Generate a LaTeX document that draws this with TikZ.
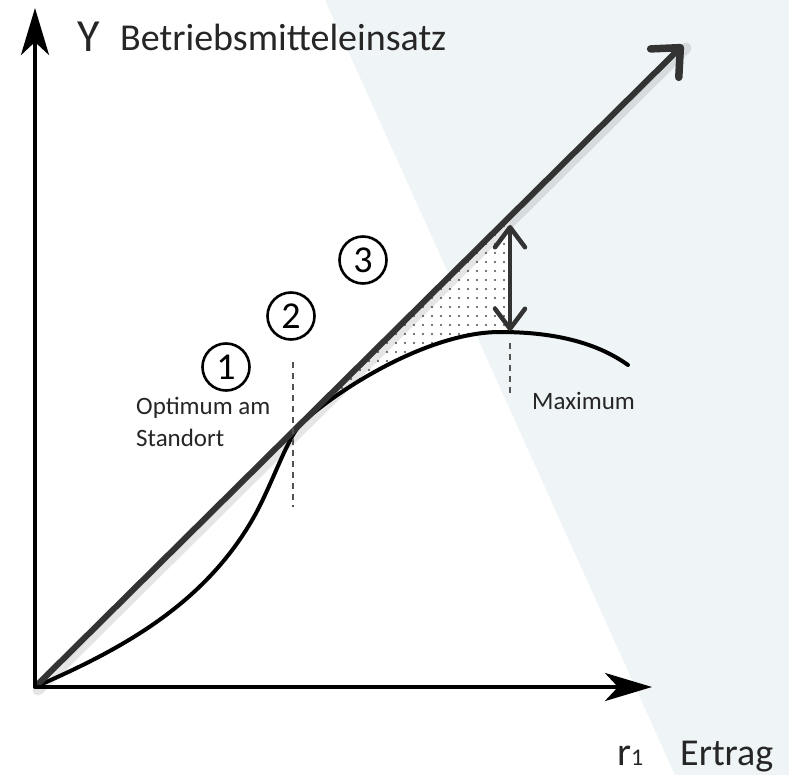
\documentclass[tikz,border=0pt]{standalone}
\usepackage{fontspec}
\setmainfont{Carlito}
\usetikzlibrary{arrows.meta,patterns.meta}
\definecolor{bgblue}{RGB}{239,244,247}
\definecolor{ink}{RGB}{51,51,51}
\definecolor{txt}{RGB}{38,38,38}
\begin{document}
\begin{tikzpicture}[x=1pt,y=-1pt,
  axis/.style={line width=4pt,black,-{Stealth[length=47pt,width=28pt,inset=13pt]}},
  diag/.style={line width=6pt,ink,-{Straight Barb[length=22pt,width=40pt,line width=7.5pt,round]}},
  curve/.style={line width=4pt,black,line cap=round},
  guide/.style={line width=1.5pt,ink!85,dash pattern=on 6pt off 5pt},
  darr/.style={line width=4.5pt,ink,{Straight Barb[length=20pt,width=30pt,round]}-{Straight Barb[length=20pt,width=30pt,round]}},
  num/.style={circle,draw=black,line width=2.6pt,minimum size=47pt,inner sep=0pt,font=\fontsize{38}{40}\selectfont,text=black},
  lbl/.style={anchor=base west,inner sep=0pt,text=txt}
]
\useasboundingbox (0,0) rectangle (789,775);
\fill[white] (0,0) rectangle (789,775);
\fill[bgblue] (325,0) -- (789,0) -- (789,775) -- (675,775) -- cycle;

% coordinates
\coordinate (O) at (35,687);
\coordinate (ytip) at (35,8);
\coordinate (xtip) at (652,687);
\coordinate (dtip) at (683,45);
\coordinate (touch) at (300,425);
\coordinate (peak) at (500,332);
\coordinate (atop) at (510,225);
\coordinate (abot) at (510,331);
\coordinate (g1a) at (293,362);
\coordinate (g1b) at (293,507);
\coordinate (g2a) at (510,343);
\coordinate (g2b) at (510,397);

% dotted area
\fill[white] (touch) .. controls (330,395) and (425,332) .. (peak) -- (510,332) -- (510,218) -- cycle;
\fill[pattern={Dots[distance=9pt,radius=1.1pt]},pattern color=black!70]
  (touch) .. controls (330,395) and (425,332) .. (peak) -- (510,332) -- (510,218) -- cycle;

% curve
\draw[curve] (O) .. controls (120,650) and (205,605) .. (255,515)
  .. controls (272,484) and (288,437) .. (touch)
  .. controls (330,395) and (425,332) .. (peak)
  .. controls (560,332) and (600,345) .. (628,365);

% diagonal with soft shadow
\draw[line width=11pt,black,opacity=0.10,line cap=round] ([shift={(3,3)}]O) -- ([shift={(3,3)}]dtip);
\draw[diag] (O) -- (dtip);

% axes
\draw[axis] (O) -- (ytip);
\draw[axis] (O) -- (xtip);

% guides
\draw[guide] (g1a) -- (g1b);
\draw[guide] (g2a) -- (g2b);

% double arrow
\draw[darr] (atop) -- (abot);

% numbers
\node[num] (n1) at (226,367) {1};
\node[num] (n2) at (291,316) {2};
\node[num] (n3) at (363,260) {3};

% labels
\node[lbl,font=\fontsize{46}{48}\selectfont] (ly) at (77,52) {Y};
\node[lbl,font=\fontsize{38}{40}\selectfont] (lbm) at (120,51) {Betriebsmitteleinsatz};
\node[lbl,font=\fontsize{25}{32}\selectfont,align=left,anchor=north west] (lopt) at (136,397) {Optimum am\\Standort};
\node[lbl,font=\fontsize{25}{27}\selectfont] (lmax) at (532,409) {Maximum};
\node[lbl,font=\fontsize{40}{42}\selectfont] (lr) at (617,765) {r{\fontsize{24}{26}\selectfont 1}};
\node[lbl,font=\fontsize{38}{40}\selectfont] (lert) at (680,765) {Ertrag};
\end{tikzpicture}
\end{document}
